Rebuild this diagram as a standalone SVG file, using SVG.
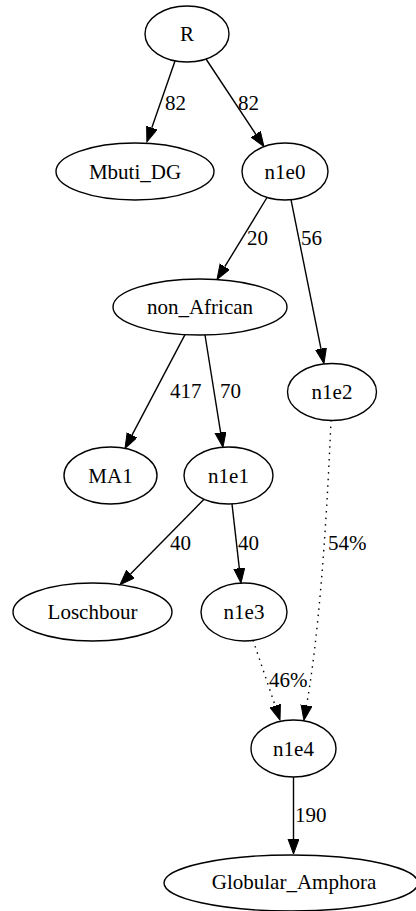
<svg xmlns="http://www.w3.org/2000/svg" width="416" height="911" viewBox="0 0 416 911">
  <defs>
    <style>
      .node ellipse { fill: none; stroke: #000; stroke-width: 1.4; }
      .node text, .lbl { font-family: "Liberation Serif", "Times New Roman", serif; font-size: 21px; fill: #000; }
      .node text { text-anchor: middle; }
      .edge { fill: none; stroke: #000; stroke-width: 1.4; marker-end: url(#arrow); }
      .dotted { stroke-dasharray: 1.5 5; }
    </style>
    <marker id="arrow" markerUnits="userSpaceOnUse" markerWidth="16" markerHeight="12" refX="0" refY="5.5" orient="auto">
      <path d="M0,0 L15,5.5 L0,11 z" fill="#000" stroke="#000" stroke-width="1"/>
    </marker>
  </defs>
  <rect width="416" height="911" fill="#fff"/>

  <!-- connectors -->
  <g id="edges">
    <path class="edge" d="M175,61 L151.8,127.8"/>
    <path class="edge" d="M206,59 L255.7,134.1"/>
    <path class="edge" d="M267,197.5 L224.8,266.7"/>
    <path class="edge" d="M291,199.7 L321,348.8"/>
    <path class="edge" d="M185,334.6 L132,435.1"/>
    <path class="edge" d="M205,335 L220.6,432.4"/>
    <path class="edge" d="M204,499.3 L130.5,574.1"/>
    <path class="edge" d="M232,503.9 L239.3,568.2"/>
    <path class="edge dotted" d="M331,420 C326,540 318,640 306.5,705.5"/>
    <path class="edge dotted" d="M253,640 L275.2,705.8"/>
    <path class="edge" d="M293.5,777 L293.5,839"/>
    <text class="lbl" x="165" y="110">82</text>
    <text class="lbl" x="238" y="110">82</text>
    <text class="lbl" x="247" y="245">20</text>
    <text class="lbl" x="301" y="245">56</text>
    <text class="lbl" x="170" y="398">417</text>
    <text class="lbl" x="220" y="398">70</text>
    <text class="lbl" x="170" y="550">40</text>
    <text class="lbl" x="238" y="550">40</text>
    <text class="lbl" x="328" y="550">54%</text>
    <text class="lbl" x="269" y="687">46%</text>
    <text class="lbl" x="295" y="822">190</text>
  </g>

  <!-- nodes -->
  <g id="R" class="node"><ellipse cx="187" cy="34" rx="42" ry="28"/><text x="187" y="41">R</text></g>
  <g id="Mbuti_DG" class="node"><ellipse cx="135" cy="171.5" rx="79" ry="28.5"/><text x="135" y="178.5">Mbuti_DG</text></g>
  <g id="n1e0" class="node"><ellipse cx="285" cy="171.5" rx="43" ry="28.5"/><text x="285" y="178.5">n1e0</text></g>
  <g id="non_African" class="node"><ellipse cx="200" cy="307" rx="87" ry="28"/><text x="200" y="314">non_African</text></g>
  <g id="n1e2" class="node"><ellipse cx="332" cy="392" rx="44.5" ry="28.5"/><text x="332" y="399">n1e2</text></g>
  <g id="MA1" class="node"><ellipse cx="110.5" cy="475.5" rx="46.5" ry="28.5"/><text x="110.5" y="482.5">MA1</text></g>
  <g id="n1e1" class="node"><ellipse cx="228.5" cy="475.5" rx="44.5" ry="28.5"/><text x="228.5" y="482.5">n1e1</text></g>
  <g id="Loschbour" class="node"><ellipse cx="92.5" cy="612" rx="79.5" ry="29"/><text x="92.5" y="619">Loschbour</text></g>
  <g id="n1e3" class="node"><ellipse cx="244" cy="612" rx="43" ry="29"/><text x="244" y="619">n1e3</text></g>
  <g id="n1e4" class="node"><ellipse cx="293.5" cy="748.5" rx="42.5" ry="28.5"/><text x="293.5" y="755.5">n1e4</text></g>
  <g id="Globular_Amphora" class="node"><ellipse cx="291" cy="883" rx="127" ry="28"/><text x="294" y="889">Globular_Amphora</text></g>
</svg>
